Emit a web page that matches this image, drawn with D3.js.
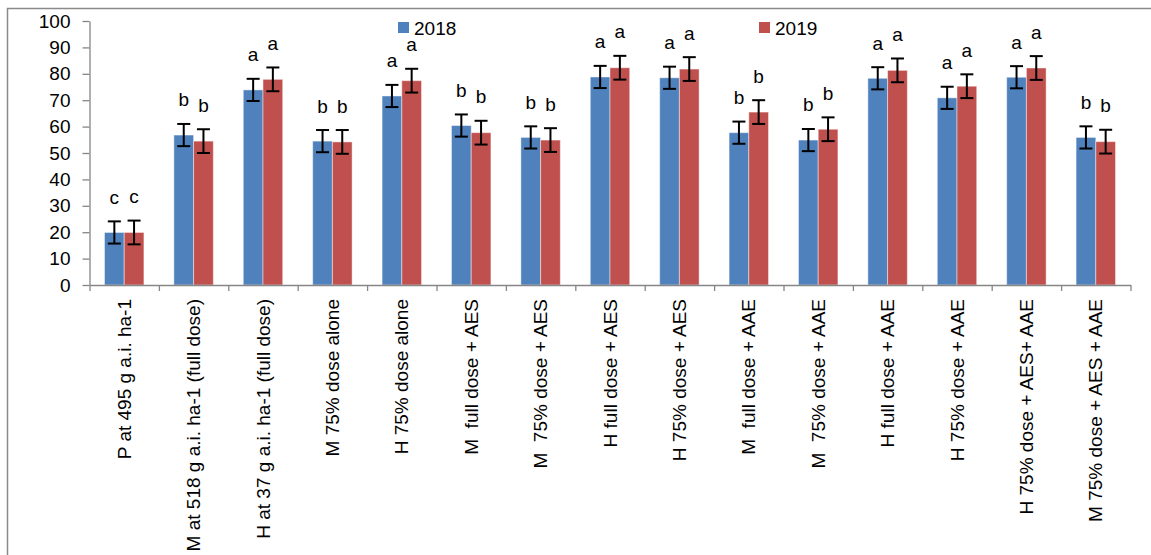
<!DOCTYPE html>
<html>
<head>
<meta charset="utf-8">
<script src="https://cdnjs.cloudflare.com/ajax/libs/d3/7.8.5/d3.min.js"></script>
<style>
body { margin: 0; background: #fff; }
svg { display: block; font-family: "Liberation Sans", Arial, sans-serif; }
</style>
</head>
<body>
<div id="chart"></div>
<script>
// treatments on the x axis
var categories = [
  "P at 495 g a.i. ha-1",
  "M at 518 g a.i. ha-1 (full dose)",
  "H at 37 g a.i. ha-1 (full dose)",
  "M 75% dose alone",
  "H 75% dose alone",
  "M  full dose + AES",
  "M  75% dose + AES",
  "H full dose + AES",
  "H 75% dose + AES",
  "M  full dose + AAE",
  "M  75% dose + AAE",
  "H full dose + AAE",
  "H 75% dose + AAE",
  "H 75% dose + AES+ AAE",
  "M 75% dose + AES + AAE"
];
var seriesNames = ["2018", "2019"];
var values2018 = [19.9, 56.8, 73.9, 54.5, 71.6, 60.4, 55.9, 78.8, 78.5, 57.7, 54.9, 78.3, 70.9, 78.7, 55.9];
var values2019 = [19.9, 54.5, 77.9, 54.2, 77.4, 57.7, 54.9, 82.3, 81.8, 65.5, 59.0, 81.3, 75.3, 82.2, 54.3];
var err2018 = [4.2, 4.2, 4.2, 4.2, 4.2, 4.2, 4.2, 4.2, 4.2, 4.2, 4.2, 4.2, 4.2, 4.2, 4.2];
var err2019 = [4.5, 4.5, 4.5, 4.5, 4.5, 4.5, 4.5, 4.5, 4.5, 4.5, 4.5, 4.5, 4.5, 4.5, 4.5];
var letters2018 = ["c", "b", "a", "b", "a", "b", "b", "a", "a", "b", "b", "a", "a", "a", "b"];
var letters2019 = ["c", "b", "a", "b", "a", "b", "b", "a", "a", "b", "b", "a", "a", "a", "b"];
var yTicks = [0, 10, 20, 30, 40, 50, 60, 70, 80, 90, 100];

var colors = ["#4F81BD", "#C0504D"];

var svg = d3.select("#chart")
  .append("svg")
  .attr("width", 1151)
  .attr("height", 555);

// outer chart frame (cut off right and bottom)
svg.append("rect")
  .attr("x", 7.5).attr("y", 8.5)
  .attr("width", 1200).attr("height", 600)
  .attr("fill", "#fff")
  .attr("stroke", "#8a8a8a")
  .attr("stroke-width", 1.5);

var plotLeft = 89.5, plotRight = 1130.5, plotTop = 21, plotBottom = 285;

var y = d3.scaleLinear().domain([0, 100]).range([plotBottom, plotTop]);

var x0 = d3.scaleBand()
  .domain(categories)
  .range([plotLeft, plotRight])
  .padding(0);

var x1 = d3.scaleBand()
  .domain(seriesNames)
  .range([0, x0.bandwidth()])
  .paddingInner(0)
  .paddingOuter(0.76);

// one row per bar
var rows = [];
categories.forEach(function(c, i) {
  rows.push({cat: c, s: "2018", v: values2018[i], e: err2018[i], l: letters2018[i], k: 0});
  rows.push({cat: c, s: "2019", v: values2019[i], e: err2019[i], l: letters2019[i], k: 1});
});

// y axis
var yAxis = svg.append("g")
  .attr("transform", "translate(" + plotLeft + ",0)")
  .call(d3.axisLeft(y).tickValues(yTicks).tickSize(7).tickSizeOuter(0).tickPadding(12));
yAxis.selectAll("text").attr("font-size", "19px").attr("fill", "#000")
  .attr("font-family", "Liberation Sans, Arial, sans-serif");
yAxis.selectAll("line, path").attr("stroke", "#868686").attr("stroke-width", 1.3);

// bars
svg.append("g")
  .selectAll("rect")
  .data(rows)
  .enter()
  .append("rect")
  .attr("x", d => x0(d.cat) + x1(d.s))
  .attr("y", d => y(d.v))
  .attr("width", x1.bandwidth())
  .attr("height", d => y(0) - y(d.v))
  .attr("fill", d => colors[d.k])
  .attr("stroke", "rgba(255,255,255,0.45)")
  .attr("stroke-width", 1);

// x axis with ticks between categories
var xLin = d3.scaleLinear().domain([0, categories.length]).range([plotLeft, plotRight]);
var xAxis = svg.append("g")
  .attr("transform", "translate(0," + plotBottom + ")")
  .call(d3.axisBottom(xLin).tickValues(d3.range(categories.length + 1)).tickFormat("").tickSize(6).tickSizeOuter(0));
xAxis.selectAll("line, path").attr("stroke", "#868686").attr("stroke-width", 1.3);

// error bars
var eb = svg.append("g")
  .selectAll("g")
  .data(rows)
  .enter()
  .append("g")
  .attr("transform", d => "translate(" + (x0(d.cat) + x1(d.s) + x1.bandwidth() / 2) + ",0)")
  .attr("stroke", "#000")
  .attr("stroke-width", 2);
eb.append("line").attr("x1", 0).attr("x2", 0).attr("y1", d => y(d.v + d.e)).attr("y2", d => y(d.v - d.e));
eb.append("line").attr("x1", -6.5).attr("x2", 6.5).attr("y1", d => y(d.v + d.e)).attr("y2", d => y(d.v + d.e));
eb.append("line").attr("x1", -6.5).attr("x2", 6.5).attr("y1", d => y(d.v - d.e)).attr("y2", d => y(d.v - d.e));

// significance letters
svg.append("g")
  .selectAll("text")
  .data(rows)
  .enter()
  .append("text")
  .attr("x", d => x0(d.cat) + x1(d.s) + x1.bandwidth() / 2)
  .attr("y", d => y(d.v + d.e) - 17.5)
  .attr("text-anchor", "middle")
  .attr("font-size", "19px")
  .attr("fill", "#000")
  .text(d => d.l);

// category labels, rotated
svg.append("g")
  .selectAll("text")
  .data(categories)
  .enter()
  .append("text")
  .attr("transform", d => "translate(" + (x0(d) + x0.bandwidth() / 2) + ",299)rotate(-90)")
  .attr("text-anchor", "end")
  .attr("dy", "0.35em")
  .attr("font-size", "19px")
  .attr("fill", "#000")
  .style("white-space", "pre")
  .text(d => d);

// legend
var legendPos = [398, 759];
var legend = svg.append("g")
  .selectAll("g")
  .data(seriesNames)
  .enter()
  .append("g")
  .attr("transform", (d, i) => "translate(" + legendPos[i] + ",22)");
legend.append("rect").attr("width", 11).attr("height", 11).attr("fill", (d, i) => colors[i]);
legend.append("text").attr("x", 16).attr("y", 13).attr("font-size", "19px").attr("fill", "#000").text(d => d);
</script>
</body>
</html>
